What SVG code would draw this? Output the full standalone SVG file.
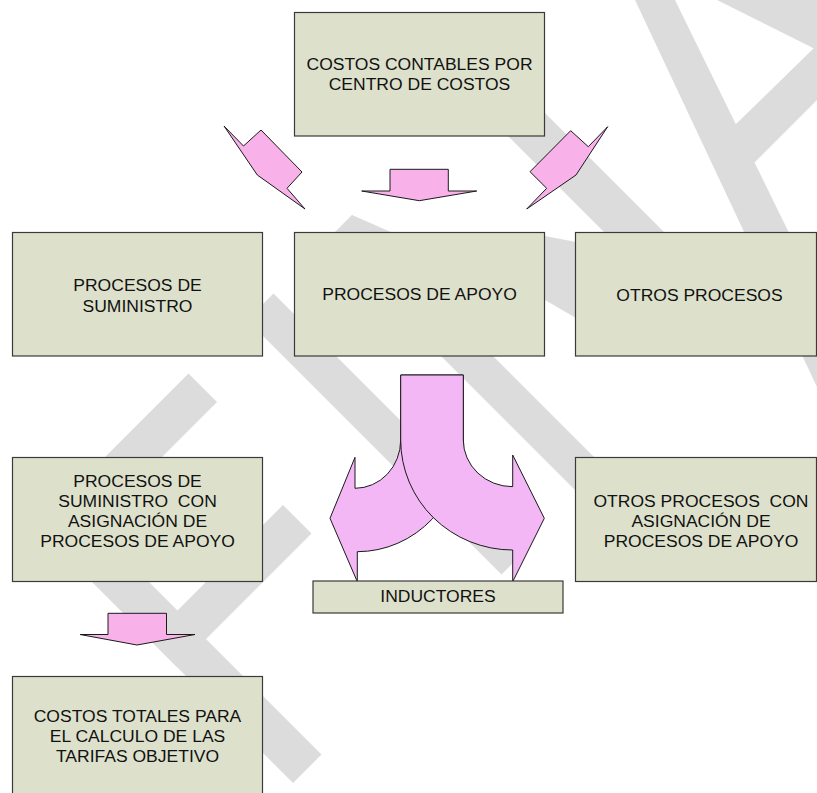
<svg xmlns="http://www.w3.org/2000/svg" width="817" height="793" viewBox="0 0 817 793">
<style>
.wm{fill:#dcdcdc}
.box{fill:#dde1cc;stroke:#3a3a3a;stroke-width:1.2}
.t{font-family:"Liberation Sans",Arial,sans-serif;font-size:16px;fill:#111;text-anchor:middle}
.arr{fill:#f9b2e9;stroke:#1a1a1a;stroke-width:1;stroke-linejoin:miter}
.big{fill:#f3b7f5;stroke:#1a1a1a;stroke-width:1}
</style>
<rect width="817" height="793" fill="#fff"/>
<g id="watermark">
<polygon class="wm" points="35,525 63.5,496.5 321.5,754.5 293,783"/>
<polygon class="wm" points="36,526 188.5,373.5 217,402 64.5,554.5"/>
<polygon class="wm" points="149,639 283,505 311.5,533.5 177.5,667.5"/>
<polygon class="wm" points="247,320 273.5,293.5 528,548 501.5,574.5"/>
<polygon class="wm" points="326,241 352,215 606.5,469.5 580.5,495.5"/>
<polygon class="wm" points="352,215 400,236 336,236"/>
<polygon class="wm" points="545,236 576,242 576,318 545,300"/>
<polygon class="wm" points="469.5,97.5 499.5,67.5 754,322 724,352"/>
<polygon class="wm" points="635,0 675,0 817,290 817,387"/>
<polygon class="wm" points="717,0 817,0 817,50"/>
<polygon class="wm" points="817,45 735,125 752,165 817,100"/>
</g>
<g id="node-costos-contables">
<rect class="box" x="294.5" y="12.5" width="250" height="123.5"/>
<text class="t" transform="translate(419.5 0) scale(1.095 1)" x="0" y="70">COSTOS CONTABLES POR</text>
<text class="t" transform="translate(419.5 0) scale(1.095 1)" x="0" y="90">CENTRO DE COSTOS</text>
</g>
<g id="node-procesos-suministro">
<rect class="box" x="12.5" y="232.5" width="250" height="123.5"/>
<text class="t" transform="translate(137.5 0) scale(1.095 1)" x="0" y="291">PROCESOS DE</text>
<text class="t" transform="translate(137.5 0) scale(1.095 1)" x="0" y="312">SUMINISTRO</text>
</g>
<g id="node-procesos-apoyo">
<rect class="box" x="294.5" y="232.5" width="250" height="123.5"/>
<text class="t" transform="translate(419.5 0) scale(1.095 1)" x="0" y="300">PROCESOS DE APOYO</text>
</g>
<g id="node-otros-procesos">
<rect class="box" x="575.5" y="232.5" width="241" height="123.5"/>
<text class="t" transform="translate(699.5 0) scale(1.095 1)" x="0" y="300.7">OTROS PROCESOS</text>
</g>
<g id="node-suministro-con-asignacion">
<rect class="box" x="12.5" y="457.5" width="250" height="124"/>
<text class="t" transform="translate(137.5 0) scale(1.095 1)" x="0" y="486.7">PROCESOS DE</text>
<text class="t" transform="translate(137.5 0) scale(1.095 1)" x="0" y="506.7" xml:space="preserve">SUMINISTRO  CON</text>
<text class="t" transform="translate(137.5 0) scale(1.095 1)" x="0" y="526.7">ASIGNACIÓN DE</text>
<text class="t" transform="translate(137.5 0) scale(1.095 1)" x="0" y="546.7">PROCESOS DE APOYO</text>
</g>
<g id="node-otros-con-asignacion">
<rect class="box" x="575.5" y="457.5" width="241" height="124"/>
<text class="t" transform="translate(701 0) scale(1.095 1)" x="0" y="506.7" xml:space="preserve">OTROS PROCESOS  CON</text>
<text class="t" transform="translate(701 0) scale(1.095 1)" x="0" y="526.7">ASIGNACIÓN DE</text>
<text class="t" transform="translate(701 0) scale(1.095 1)" x="0" y="546.7">PROCESOS DE APOYO</text>
</g>
<g id="node-costos-totales">
<rect class="box" x="12.5" y="676.5" width="250" height="124"/>
<text class="t" transform="translate(137.5 0) scale(1.095 1)" x="0" y="722.3">COSTOS TOTALES PARA</text>
<text class="t" transform="translate(137.5 0) scale(1.095 1)" x="0" y="742.3">EL CALCULO DE LAS</text>
<text class="t" transform="translate(137.5 0) scale(1.095 1)" x="0" y="762.3">TARIFAS OBJETIVO</text>
</g>
<g id="connectors">
<polygon class="arr" points="224,126 243.5,146 261,130 302,172 287,188.3 305,209 257.3,175"/>
<polygon class="arr" points="607.7,126.7 576,175 526.7,209 546.7,188.3 530,171.7 570.7,130.7 588.3,146.7"/>
<polygon class="arr" points="390,169.3 448.3,169.3 448.3,191 476.7,191 419.3,200.7 361.7,191 390,191"/>
<polygon class="arr" points="108,613.3 166.5,613.3 166.5,634.5 195,634.5 137,645 80,634.5 108,634.5"/>
<path class="big" d="M463.3,375 L463.3,440 A106,111.7 0 0 1 357.3,551.7 L357.3,581.7 L330,518.3 L355,457.3 L355,488.3 A45.7,48.3 0 0 0 400.7,440 L400.7,375 Z"/>
<path class="big" d="M400.7,375 L463.3,375 L463.3,440 A49.4,46.7 0 0 0 512.7,486.7 L512.7,455 L544.3,518.3 L512.7,581.7 L512.7,550 A112,110 0 0 1 400.7,440 Z"/>
</g>
<g id="node-inductores">
<rect class="box" x="313" y="581" width="250" height="32"/>
<text class="t" transform="translate(438 0) scale(1.095 1)" x="0" y="602.3">INDUCTORES</text>
</g>
</svg>
